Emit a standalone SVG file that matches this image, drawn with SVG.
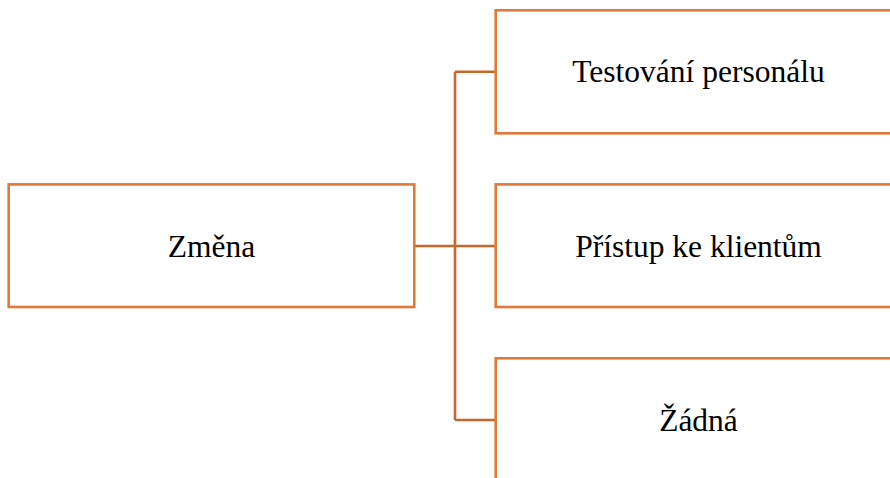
<svg xmlns="http://www.w3.org/2000/svg" width="890" height="478" viewBox="0 0 890 478">
<style>
.box{fill:#fff;stroke:#E07A38;stroke-width:2.6}
.lbl{font-family:"Liberation Serif","Times New Roman",serif;font-size:31.5px;fill:#000;text-anchor:middle}
.conn{fill:none;stroke:#C7672D;stroke-width:2.6}
</style>
<rect width="890" height="478" fill="#fff"/>
<g id="connectors">
<path class="conn" d="M414.3 246H455M455 71.7V420M455 71.7H495.7M455 246H495.7M455 420H495.7"/>
</g>
<g id="zmena">
<rect class="box" x="8.7" y="184.4" width="405.6" height="122.6"/>
<text class="lbl" x="211.5" y="256.5">Změna</text>
</g>
<g id="testovani">
<rect class="box" x="495.7" y="10.3" width="405.6" height="123"/>
<text class="lbl" x="698.5" y="82.3">Testování personálu</text>
</g>
<g id="pristup">
<rect class="box" x="495.7" y="184.4" width="405.6" height="122.6"/>
<text class="lbl" x="698.5" y="256.5">Přístup ke klientům</text>
</g>
<g id="zadna">
<rect class="box" x="495.7" y="358.3" width="405.6" height="123"/>
<text class="lbl" x="698.5" y="430.5">Žádná</text>
</g>
</svg>
